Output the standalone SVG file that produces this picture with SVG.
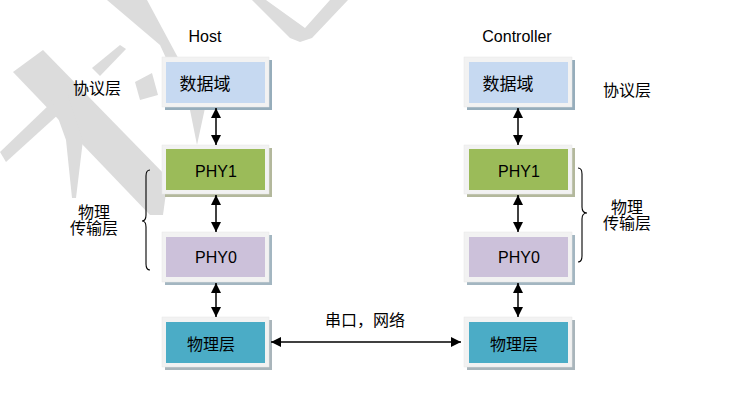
<svg xmlns="http://www.w3.org/2000/svg" width="730" height="406" viewBox="0 0 730 406">
<style>
.wm{fill:#dcdcdc;stroke:none}
.frame{fill:#f2f2f2;stroke:#e6e6e6;stroke-width:0.5}
.t{font-family:"Liberation Sans","Noto Sans CJK SC",sans-serif;fill:#000}
.n{font-size:16px}
.d{font-size:17px}
.lbl{font-size:16px}
.c{text-anchor:middle}
.line{stroke:#000;stroke-width:1.5;fill:none}
.brace{stroke:#000;stroke-width:1.1;fill:none}
</style>
<defs>
<marker id="ah" markerWidth="10" markerHeight="10" refX="10" refY="5" orient="auto-start-reverse" markerUnits="userSpaceOnUse">
<path d="M0,0 L10,5 L0,10 z" fill="#000"/>
</marker>
</defs>
<rect width="730" height="406" fill="#fff"/>
<g id="watermark">
<polygon class="wm" points="107,0 147,0 205,108 197,145 190,110 160,45"/>
<polygon class="wm" points="13,72 43,50 168,178 163,215 150,215"/>
<polygon class="wm" points="48,90 68,95 83,140 76,198 72,198 66,140"/>
<polygon class="wm" points="0,152 50,104 60,113 6,162"/>
<polygon class="wm" points="92,68 120,45 126,49 100,76"/>
<polygon class="wm" points="135,82 152,73 158,95 140,100"/>
<polygon class="wm" points="252,0 266,0 305,28 330,0 348,0 312,38 300,42 290,38"/>
</g>
<g id="host-title"><text class="t lbl c" x="205" y="42">Host</text></g>
<g id="controller-title"><text class="t lbl c" x="517" y="42">Controller</text></g>
<g id="label-protocol-left"><text class="t n" x="73" y="94">协议层</text></g>
<g id="label-protocol-right"><text class="t n" x="603" y="96">协议层</text></g>
<g id="label-phys-left"><text class="t n c" x="94" y="218">物理</text><text class="t n c" x="94" y="234">传输层</text></g>
<g id="label-phys-right"><text class="t n c" x="627" y="213">物理</text><text class="t n c" x="627" y="229">传输层</text></g>
<g id="host-data">
<rect x="165" y="60" width="107" height="50" fill="#96adbb"/>
<rect class="frame" x="162" y="57" width="107" height="50"/>
<rect x="166" y="62" width="99" height="41" fill="#c6d9f1"/>
<text class="t d c" x="205" y="90">数据域</text>
</g>
<g id="host-phy1">
<rect x="165" y="148" width="107" height="49" fill="#b3b89c"/>
<rect class="frame" x="162" y="145" width="107" height="49"/>
<rect x="166" y="149" width="99" height="41" fill="#9bbb59"/>
<text class="t n c" x="216" y="177">PHY1</text>
</g>
<g id="host-phy0">
<rect x="165" y="235" width="107" height="50" fill="#a3b6c1"/>
<rect class="frame" x="162" y="232" width="107" height="50"/>
<rect x="166" y="237" width="99" height="40" fill="#ccc1da"/>
<text class="t n c" x="216" y="263">PHY0</text>
</g>
<g id="host-phys">
<rect x="165" y="320" width="107" height="50" fill="#a9b5bb"/>
<rect class="frame" x="162" y="317" width="107" height="50"/>
<rect x="166" y="322" width="99" height="41" fill="#4bacc6"/>
<text class="t n c" x="211" y="350">物理层</text>
</g>
<g id="ctrl-data">
<rect x="467" y="60" width="108" height="50" fill="#96adbb"/>
<rect class="frame" x="464" y="57" width="108" height="50"/>
<rect x="469" y="62" width="99" height="41" fill="#c6d9f1"/>
<text class="t d c" x="508" y="90">数据域</text>
</g>
<g id="ctrl-phy1">
<rect x="467" y="148" width="108" height="49" fill="#b3b89c"/>
<rect class="frame" x="464" y="145" width="108" height="49"/>
<rect x="469" y="149" width="99" height="41" fill="#9bbb59"/>
<text class="t n c" x="519" y="177">PHY1</text>
</g>
<g id="ctrl-phy0">
<rect x="467" y="235" width="108" height="50" fill="#a3b6c1"/>
<rect class="frame" x="464" y="232" width="108" height="50"/>
<rect x="469" y="237" width="99" height="40" fill="#ccc1da"/>
<text class="t n c" x="519" y="263">PHY0</text>
</g>
<g id="ctrl-phys">
<rect x="467" y="320" width="108" height="50" fill="#a9b5bb"/>
<rect class="frame" x="464" y="317" width="108" height="50"/>
<rect x="469" y="322" width="99" height="41" fill="#4bacc6"/>
<text class="t n c" x="514" y="350">物理层</text>
</g>
<g id="connectors">
<line class="line" x1="216" y1="108" x2="216" y2="145" marker-start="url(#ah)" marker-end="url(#ah)"/>
<line class="line" x1="216" y1="195" x2="216" y2="232" marker-start="url(#ah)" marker-end="url(#ah)"/>
<line class="line" x1="216" y1="283" x2="216" y2="317" marker-start="url(#ah)" marker-end="url(#ah)"/>
<line class="line" x1="518" y1="108" x2="518" y2="145" marker-start="url(#ah)" marker-end="url(#ah)"/>
<line class="line" x1="518" y1="195" x2="518" y2="232" marker-start="url(#ah)" marker-end="url(#ah)"/>
<line class="line" x1="518" y1="283" x2="518" y2="317" marker-start="url(#ah)" marker-end="url(#ah)"/>
<line class="line" x1="271" y1="342" x2="461" y2="342" marker-start="url(#ah)" marker-end="url(#ah)"/>
<text class="t n" x="325" y="326">串口，网络</text>
</g>
<g id="braces">
<path class="brace" d="M150,170 Q146,170 146,176 L146,215 Q146,221 142,221 Q146,221 146,227 L146,264 Q146,270 150,270"/>
<path class="brace" d="M578,168 Q582,168 582,174 L582,207 Q582,213 587,213 Q582,213 582,219 L582,256 Q582,262 578,262"/>
</g>
</svg>
